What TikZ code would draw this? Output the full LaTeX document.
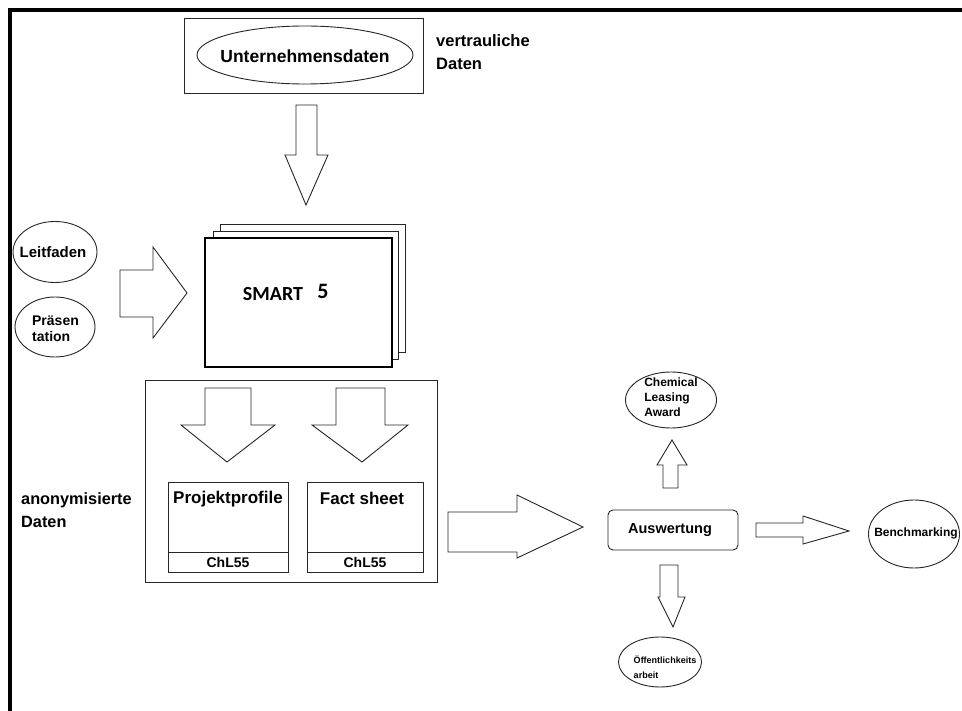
\documentclass[tikz,border=0pt]{standalone}
\usepackage{fontspec}
\setmainfont{Liberation Sans}
\newfontfamily\carl{Carlito}
\usetikzlibrary{shapes.geometric}
\begin{document}
\begin{tikzpicture}[x=1pt,y=-1pt,
  ln/.style={draw=black!85, line width=0.9pt},
  ell/.style={ellipse, draw=black!85, line width=0.9pt, inner sep=0pt},
  barrow/.style={draw=black!85, line width=0.9pt, fill=white, line join=miter},
  txt/.style={inner sep=0pt, align=left}]
\useasboundingbox (0,0) rectangle (962,711);
% frame
\draw[line width=3.5pt] (10,711) -- (10,10) -- (962,10);

% top box
\node[ln, rectangle, minimum width=239pt, minimum height=75pt] (topbox) at (303.5,55.5) {};
\node[ell, minimum width=216pt, minimum height=58pt] (unt) at (305,55) {};
\node[txt, font=\bfseries\fontsize{17.5}{20}\selectfont] (unttxt) at (305,56) {Unternehmensdaten};
\node[txt, anchor=west, font=\bfseries\fontsize{16.5}{23}\selectfont] (vert) at (436,52.5) {vertrauliche\\Daten};

% arrow down to SMART
\draw[barrow] (296,105) -- (317,105) -- (317,155) -- (328,155) -- (306,205) -- (285,155) -- (296,155) -- cycle;

% SMART stack
\node[ln, rectangle, minimum width=185pt, minimum height=128pt] (s3) at (312.5,288) {};
\node[ln, rectangle, fill=white, minimum width=185pt, minimum height=128pt] (s2) at (305.5,295) {};
\node[draw=black, line width=1.3pt, rectangle, fill=white, minimum width=187pt, minimum height=129pt] (s1) at (298.5,302.5) {};
\node[inner sep=0pt, font=\carl\bfseries\fontsize{20}{22}\selectfont] (smart) at (273,294) {SMART};
\node[inner sep=0pt, font=\carl\bfseries\fontsize{22}{24}\selectfont] (five) at (323,291) {5};

% left ellipses
\node[ell, minimum width=84pt, minimum height=61pt] (leit) at (55,252) {};
\node[txt, font=\bfseries\fontsize{15}{17}\selectfont] (leittxt) at (53,252) {Leitfaden};
\node[ell, minimum width=80pt, minimum height=60pt] (praes) at (55,327) {};
\node[txt, font=\bfseries\fontsize{14}{16}\selectfont] (praestxt) at (55.5,329) {Präsen\\tation};

% arrow right into SMART
\draw[barrow] (120,270) -- (153,270) -- (153,247) -- (187,293) -- (153,338) -- (153,317) -- (120,317) -- cycle;

% big box
\node[ln, rectangle, minimum width=292pt, minimum height=202pt] (big) at (291,481) {};
\draw[barrow] (205,388) -- (251,388) -- (251,425) -- (275,425) -- (227,462) -- (181,425) -- (205,425) -- cycle;
\draw[barrow] (336,388) -- (385,388) -- (385,425) -- (408,425) -- (362,462) -- (312,425) -- (336,425) -- cycle;

\node[ln, rectangle, minimum width=120pt, minimum height=90pt] (pp) at (228,527) {};
\draw[ln] ([yshift=20pt]pp.south west) -- ([yshift=20pt]pp.south east);
\node[inner sep=0pt, font=\bfseries\fontsize{17}{19}\selectfont] (pptxt) at (228,499) {Projektprofile};
\node[inner sep=0pt, font=\bfseries\fontsize{14}{16}\selectfont] (ppchl) at (228,562) {ChL55};

\node[ln, rectangle, minimum width=116pt, minimum height=90pt] (fs) at (365,527) {};
\draw[ln] ([yshift=20pt]fs.south west) -- ([yshift=20pt]fs.south east);
\node[inner sep=0pt, font=\bfseries\fontsize{17}{19}\selectfont] (fstxt) at (362,498) {Fact sheet};
\node[inner sep=0pt, font=\bfseries\fontsize{14}{16}\selectfont] (fschl) at (365,562) {ChL55};

\node[txt, anchor=west, font=\bfseries\fontsize{16.3}{23}\selectfont] (anon) at (21,510) {anonymisierte\\Daten};

% arrow to Auswertung
\draw[barrow] (448,512) -- (517,512) -- (517,495) -- (583,527) -- (517,558) -- (517,552) -- (448,552) -- cycle;

\node[ln, rectangle, rounded corners=5pt, minimum width=130pt, minimum height=40pt] (ausw) at (673,530) {};
\node[txt, font=\bfseries\fontsize{14.5}{16}\selectfont] (auswtxt) at (670,530) {Auswertung};

% up arrow
\draw[barrow] (663,488) -- (678,488) -- (678,465) -- (687,465) -- (672,440) -- (657,465) -- (663,465) -- cycle;
\node[ell, minimum width=91pt, minimum height=56pt] (chem) at (671,400) {};
\node[txt, font=\bfseries\fontsize{12}{15}\selectfont] (chemtxt) at (671,397) {Chemical\\Leasing\\Award};

% right arrow to Benchmarking
\draw[barrow] (756,523) -- (803,523) -- (803,516) -- (849,531) -- (803,544) -- (803,537) -- (756,537) -- cycle;
\node[ell, minimum width=91pt, minimum height=68pt] (bench) at (914,534) {};
\node[txt, font=\bfseries\fontsize{12}{14}\selectfont] (benchtxt) at (916,533) {Benchmarking};

% down arrow
\draw[barrow] (660,565) -- (678,565) -- (678,597) -- (685,597) -- (673,627) -- (658,597) -- (660,597) -- cycle;
\node[ell, minimum width=83pt, minimum height=50pt] (oeff) at (660,662) {};
\node[txt, font=\bfseries\fontsize{9}{15}\selectfont] (oefftxt) at (665,667) {Öffentlichkeits\\arbeit};
\end{tikzpicture}
\end{document}
